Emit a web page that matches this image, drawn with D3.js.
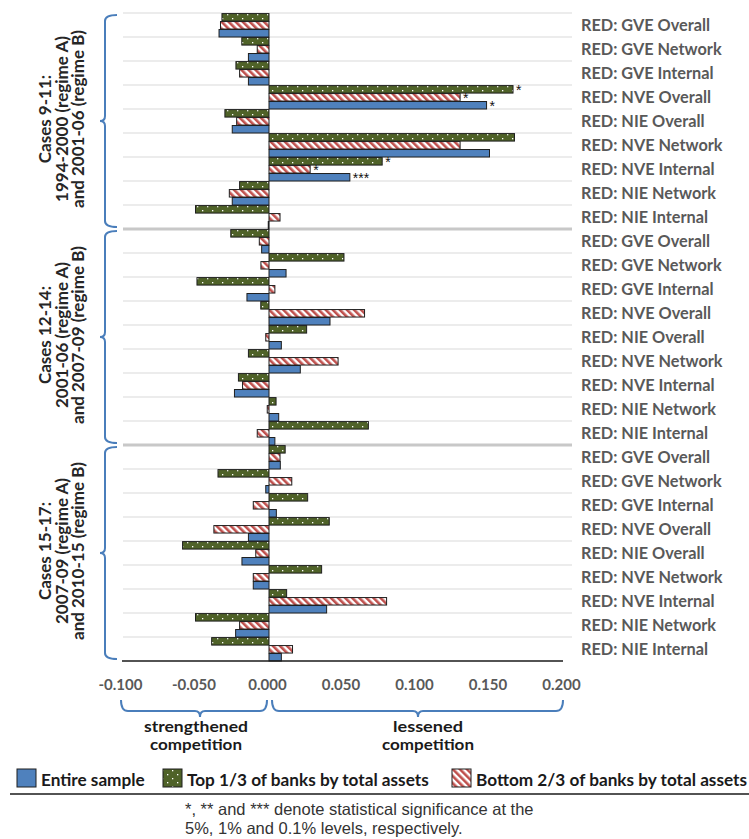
<!DOCTYPE html>
<html>
<head>
<meta charset="utf-8">
<script src="https://cdn.jsdelivr.net/npm/d3@7/dist/d3.min.js"></script>
<style>
  html, body { margin: 0; padding: 0; background: #fff; }
  svg { display: block; }
</style>
</head>
<body>
<svg id="chart" width="749" height="839"></svg>
<script>
// ---------------- DATA ----------------
const measures = ["RED: GVE Overall", "RED: GVE Network", "RED: GVE Internal",
  "RED: NVE Overall", "RED: NIE Overall", "RED: NVE Network",
  "RED: NVE Internal", "RED: NIE Network", "RED: NIE Internal"];

const sections = [
  ["Cases 9-11:", "1994-2000 (regime A)", "and 2001-06 (regime B)"],
  ["Cases 12-14:", "2001-06 (regime A)", "and 2007-09 (regime B)"],
  ["Cases 15-17:", "2007-09 (regime A)", "and 2010-15 (regime B)"]
];

// Top 1/3 of banks by total assets (27 values: 3 sections x 9 measures)
const topThird = [
  -0.032, -0.0185, -0.0225, 0.166, -0.030, 0.167, 0.077, -0.020, -0.050,
  -0.026, 0.051, -0.049, -0.0056, 0.0256, -0.014, -0.0208, 0.0048, 0.0676,
  0.011, -0.0347, 0.0263, 0.041, -0.0588, 0.0358, 0.012, -0.050, -0.039
];
// Bottom 2/3 of banks by total assets
const bottomTwoThirds = [
  -0.033, -0.008, -0.020, 0.130, -0.022, 0.130, 0.028, -0.027, 0.0075,
  -0.0066, -0.0055, 0.004, 0.065, -0.0022, 0.047, -0.018, -0.0012, -0.008,
  0.0075, 0.0155, -0.0107, -0.0375, -0.009, -0.0107, 0.080, -0.020, 0.016
];
// Entire sample
const entireSample = [
  -0.034, -0.014, -0.014, 0.148, -0.025, 0.150, 0.055, -0.025, -0.0005,
  -0.005, 0.0116, -0.015, 0.0415, 0.0084, 0.0213, -0.0235, 0.0066, 0.004,
  0.0077, -0.0022, 0.005, -0.014, -0.0184, -0.0107, 0.0392, -0.0227, 0.0084
];

// significance markers: [category index, series key, mark]
const significance = [
  [3, "top", "*"], [3, "bottom", "*"], [3, "entire", "*"],
  [6, "top", "*"], [6, "bottom", "*"], [6, "entire", "***"]
];

const tickValues = [-0.1, -0.05, 0, 0.05, 0.1, 0.15, 0.2];
const legendLabels = ["Entire sample", "Top 1/3 of banks by total assets", "Bottom 2/3 of banks by total assets"];
const regionLabels = [["strengthened", "competition"], ["lessened", "competition"]];
const footnote = ["*, ** and *** denote statistical significance at the", "5%, 1% and 0.1% levels, respectively."];

// ---------------- DRAW ----------------
const svg = d3.select("#chart");
const defs = svg.append("defs");

const BLUE = "#4f81bd", GREEN = "#4f6228", RED = "#c0504d", BRACE = "#4a7ebb";
const SANS = "Lato, Calibri, sans-serif";

// dotted green pattern
const pd = defs.append("pattern").attr("id", "dots").attr("patternUnits", "userSpaceOnUse")
  .attr("width", 10).attr("height", 8);
pd.append("rect").attr("width", 10).attr("height", 8).attr("fill", GREEN);
pd.append("rect").attr("x", 2).attr("y", 2).attr("width", 1.3).attr("height", 1.3).attr("fill", "#fff");
pd.append("rect").attr("x", 7).attr("y", 6).attr("width", 1.3).attr("height", 1.3).attr("fill", "#fff");

// diagonal red hatch (top-left to bottom-right)
const ph = defs.append("pattern").attr("id", "hatch").attr("patternUnits", "userSpaceOnUse")
  .attr("width", 5).attr("height", 5).attr("patternTransform", "rotate(-45)");
ph.append("rect").attr("width", 5).attr("height", 5).attr("fill", "#fff");
ph.append("rect").attr("width", 2.6).attr("height", 5).attr("fill", RED);

const N = measures.length * sections.length;
const cats = d3.range(N);

const x = d3.scaleLinear().domain([-0.1, 0.2]).range([122, 563]);
const y = d3.scaleBand().domain(cats).range([13, 661]).padding(0);
const bw = y.bandwidth();

const seriesKeys = ["top", "bottom", "entire"];
const seriesVals = { top: topThird, bottom: bottomTwoThirds, entire: entireSample };
const seriesFill = { top: "url(#dots)", bottom: "url(#hatch)", entire: BLUE };
const yi = d3.scaleBand().domain(seriesKeys).range([0.6, bw]).paddingInner(0.06);

// gridlines
const grid = svg.append("g");
d3.range(N).forEach(i => {
  const yy = y(i);
  const sep = (i % 9 === 0) && i > 0;
  grid.append("line")
    .attr("x1", 123).attr("x2", 572)
    .attr("y1", yy).attr("y2", yy)
    .attr("stroke", sep ? "#c8c8c8" : "#d9d9d9")
    .attr("stroke-width", sep ? 3 : 1.2);
});

// bars
const barsG = svg.append("g");
seriesKeys.forEach(k => {
  barsG.selectAll(null).data(cats).enter().append("rect")
    .attr("x", d => Math.min(x(0), x(seriesVals[k][d])))
    .attr("y", d => y(d) + yi(k))
    .attr("width", d => Math.max(0.8, Math.abs(x(seriesVals[k][d]) - x(0))))
    .attr("height", yi.bandwidth())
    .attr("fill", seriesFill[k])
    .attr("stroke", "#1f1f1f")
    .attr("stroke-width", 1);
});

// significance stars
svg.append("g").selectAll("text").data(significance).enter().append("text")
  .attr("x", d => x(seriesVals[d[1]][d[0]]) + 3)
  .attr("y", d => y(d[0]) + yi(d[1]) + yi.bandwidth() / 2 + 6)
  .attr("font-family", "Liberation Sans, Arial, sans-serif")
  .attr("font-size", 14)
  .attr("fill", "#111")
  .text(d => d[2]);

// bottom axis line
svg.append("line").attr("x1", 122).attr("x2", 563).attr("y1", 661).attr("y2", 661)
  .attr("stroke", "#1a1a1a").attr("stroke-width", 1.3);

// x axis tick labels
const xAxis = d3.axisBottom(x).tickValues(tickValues).tickSize(0).tickPadding(0)
  .tickFormat(d => d.toFixed(3));
const xg = svg.append("g").attr("transform", "translate(-2,679)").call(xAxis);
xg.select(".domain").remove();
xg.selectAll("text")
  .attr("font-family", SANS)
  .attr("font-weight", "bold")
  .attr("font-size", 15)
  .attr("fill", "#595959");

// category labels (right)
const yLabels = cats.map(i => measures[i % measures.length]);
const yAxis = d3.axisRight(y).tickSize(0).tickPadding(0).tickFormat(i => yLabels[i]);
const yg = svg.append("g").attr("transform", "translate(581,0.5)").call(yAxis);
yg.select(".domain").remove();
yg.selectAll("text")
  .attr("font-family", SANS)
  .attr("font-weight", "bold")
  .attr("font-size", 16.3)
  .attr("fill", "#595959");

// left braces + section labels
sections.forEach((lines, s) => {
  const top = y(s * 9) + 2;
  const bot = y(s * 9 + 8) + bw - 2;
  const mid = (top + bot) / 2;
  const bx = 105;
  const p = d3.path();
  p.moveTo(117, top);
  p.quadraticCurveTo(bx, top, bx, top + 6);
  p.lineTo(bx, mid - 5);
  p.quadraticCurveTo(bx, mid, bx - 5, mid);
  p.quadraticCurveTo(bx, mid, bx, mid + 5);
  p.lineTo(bx, bot - 6);
  p.quadraticCurveTo(bx, bot, 117, bot);
  svg.append("path").attr("d", p.toString()).attr("fill", "none")
    .attr("stroke", BRACE).attr("stroke-width", 2);

  const tg = svg.append("g").attr("transform", `translate(62,${mid - 2}) rotate(-90)`);
  lines.forEach((t, li) => {
    tg.append("text")
      .attr("x", 0).attr("y", (li - 1) * 16.5)
      .attr("dy", "0.35em")
      .attr("text-anchor", "middle")
      .attr("font-family", SANS)
      .attr("font-weight", "bold")
      .attr("font-size", 17)
      .attr("fill", "#262626")
      .text(t);
  });
});

// bottom braces
const regions = [[-0.1, 0], [0, 0.2]];
const regionWidths = [[104, 92], [70, 92]];
regions.forEach((r, i) => {
  const x0 = x(r[0]) + (i === 0 ? -1 : 3);
  const x1 = x(r[1]) - (i === 0 ? 2 : 0);
  const m = i === 0 ? 200 : 418;
  const yt = 700, yh = 711, yp = 717;
  const p = d3.path();
  p.moveTo(x0, yt);
  p.quadraticCurveTo(x0, yh, x0 + 7, yh);
  p.lineTo(m - 5, yh);
  p.quadraticCurveTo(m, yh, m, yp);
  p.quadraticCurveTo(m, yh, m + 5, yh);
  p.lineTo(x1 - 7, yh);
  p.quadraticCurveTo(x1, yh, x1, yt);
  svg.append("path").attr("d", p.toString()).attr("fill", "none")
    .attr("stroke", BRACE).attr("stroke-width", 2);
  const cx = i === 0 ? 196 : 428;
  regionLabels[i].forEach((t, li) => {
    svg.append("text").attr("x", cx).attr("y", 732 + li * 17.5)
      .attr("text-anchor", "middle")
      .attr("font-family", SANS)
      .attr("font-weight", "bold")
      .attr("font-size", 14.5)
      .attr("textLength", regionWidths[i][li])
      .attr("lengthAdjust", "spacingAndGlyphs")
      .attr("fill", "#1a1a1a")
      .text(t);
  });
});

// legend
const legendX = [17, 163, 452];
const legendFill = [BLUE, "url(#dots)", "url(#hatch)"];
legendLabels.forEach((t, i) => {
  svg.append("rect").attr("x", legendX[i]).attr("y", 769).attr("width", 19).attr("height", 18)
    .attr("fill", legendFill[i]).attr("stroke", "#1f1f1f").attr("stroke-width", 1);
  svg.append("text").attr("x", legendX[i] + 24).attr("y", 786)
    .attr("font-family", SANS)
    .attr("font-weight", "bold")
    .attr("font-size", 17.2)
    .attr("fill", "#1a1a1a")
    .text(t);
});

svg.append("line").attr("x1", 10).attr("x2", 749).attr("y1", 794).attr("y2", 794)
  .attr("stroke", "#1a1a1a").attr("stroke-width", 1.5);

footnote.forEach((t, i) => {
  svg.append("text").attr("x", 185).attr("y", 815 + i * 19)
    .attr("font-family", "Liberation Sans Narrow, Liberation Sans, Arial, sans-serif")
    .attr("font-size", 16.5)
    .attr("fill", "#333")
    .text(t);
});
</script>
</body>
</html>
